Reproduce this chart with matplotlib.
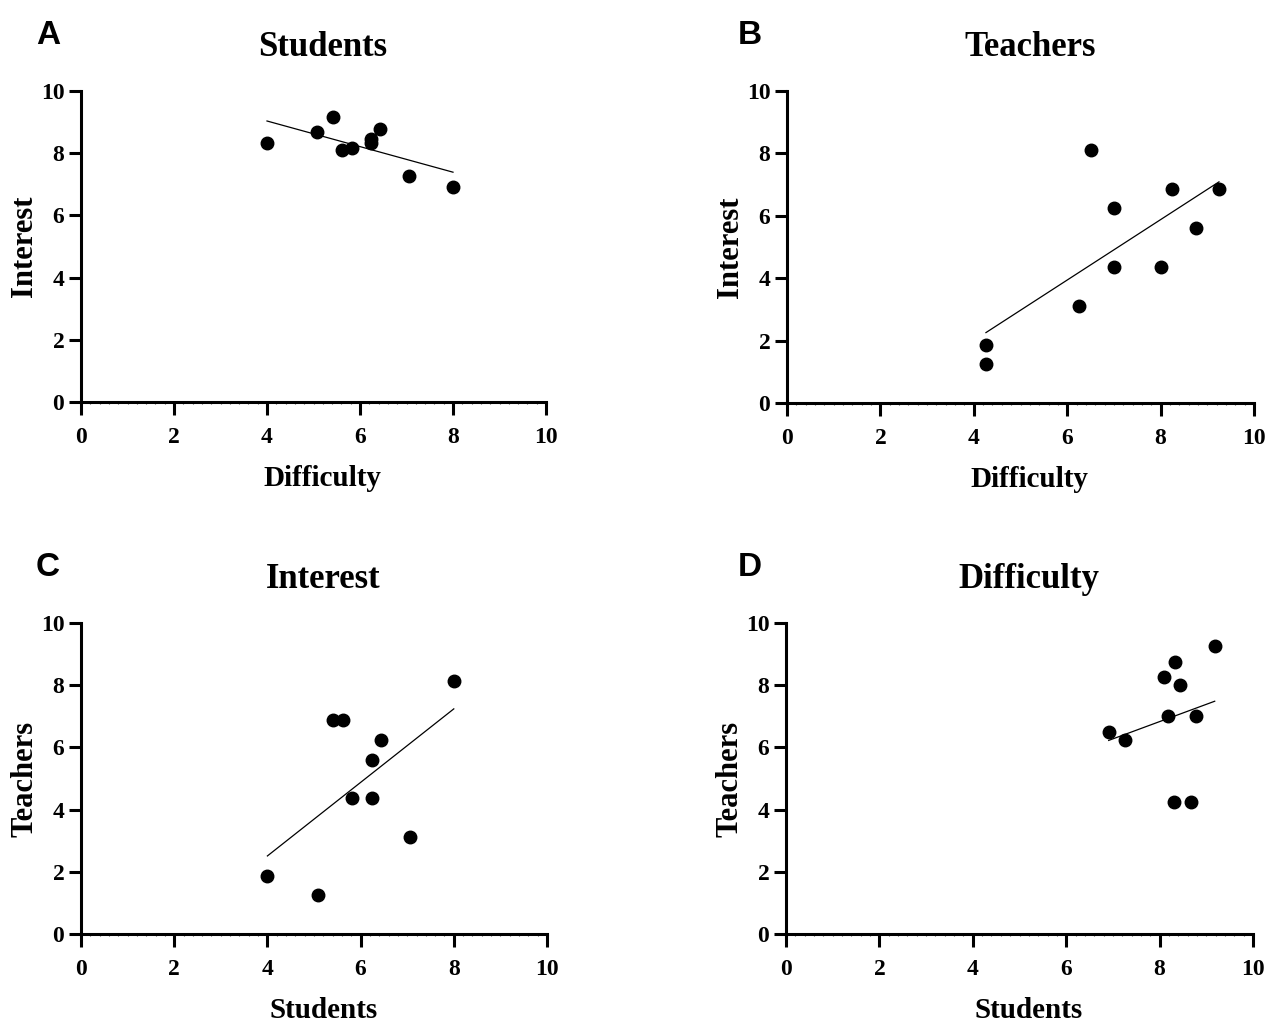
import numpy as np
import matplotlib
matplotlib.use("Agg")
import matplotlib.pyplot as plt
from matplotlib.ticker import MultipleLocator

# panel A: students, difficulty vs interest
a_x = [4.0, 5.08, 5.41, 5.61, 5.83, 6.24, 6.24, 6.42, 7.06, 8.0]
a_y = [8.32, 8.67, 9.17, 8.10, 8.18, 8.45, 8.32, 8.79, 7.26, 6.91]

# panel B: teachers, difficulty vs interest
b_x = [4.26, 4.26, 6.25, 6.5, 7.0, 7.0, 8.0, 8.25, 8.75, 9.25]
b_y = [1.86, 1.24, 3.11, 8.11, 6.24, 4.37, 4.37, 6.86, 5.61, 6.86]

# panel C: interest, students vs teachers
c_x = [4.0, 5.09, 5.41, 5.63, 5.82, 6.24, 6.24, 6.43, 7.07, 8.0]
c_y = [1.86, 1.24, 6.87, 6.87, 4.37, 5.61, 4.37, 6.24, 3.11, 8.12]

# panel D: difficulty, students vs teachers
d_x = [6.91, 7.26, 8.10, 8.18, 8.30, 8.34, 8.43, 8.68, 8.79, 9.18]
d_y = [6.50, 6.25, 8.25, 7.0, 4.25, 8.75, 8.0, 4.25, 7.0, 9.25]

panels = [
    ("A", "Students", "Difficulty", "Interest", a_x, a_y),
    ("B", "Teachers", "Difficulty", "Interest", b_x, b_y),
    ("C", "Interest", "Students", "Teachers", c_x, c_y),
    ("D", "Difficulty", "Students", "Teachers", d_x, d_y),
]

serif = "Liberation Serif"
W, H = 1268, 1022
fig = plt.figure(figsize=(W / 100, H / 100), dpi=100)

# axes boxes in pixels: left, top, right, bottom
boxes = [(81, 91, 546, 402), (787, 91, 1254, 403),
         (81, 623, 547, 934), (786, 623, 1253, 934)]
letter_pos = [(36, 20), (738, 20), (36, 552), (738, 552)]

for (letter, title, xl, yl, xs, ys), (l, t, r, b), (lx, ly) in zip(panels, boxes, letter_pos):
    ax = fig.add_axes([l / W, 1 - b / H, (r - l) / W, (b - t) / H])
    ax.plot(xs, ys, "o", color="black", ms=9, clip_on=False, zorder=3)
    k, c = np.polyfit(xs, ys, 1)
    xx = np.array([min(xs), max(xs)])
    ax.plot(xx, k * xx + c, color="black", lw=0.9)

    ax.set_xlim(0, 10)
    ax.set_ylim(0, 10)
    ax.xaxis.set_major_locator(MultipleLocator(2))
    ax.xaxis.set_minor_locator(MultipleLocator(0.2))
    ax.yaxis.set_major_locator(MultipleLocator(2))
    ax.spines[["top", "right"]].set_visible(False)
    for s in ("left", "bottom"):
        ax.spines[s].set_linewidth(2.2)
    ax.tick_params(which="major", length=9, width=2.2, labelsize=17)
    ax.tick_params(axis="x", which="major", pad=9)
    ax.tick_params(axis="y", which="major", pad=3)
    ax.tick_params(axis="x", which="minor", length=1.5, width=0.8, color="#555555")
    for lab in ax.get_xticklabels() + ax.get_yticklabels():
        lab.set_fontfamily(serif)
        lab.set_fontweight("bold")

    ax.set_title(title, fontfamily=serif, fontweight="bold", fontsize=25, pad=25, x=0.52)
    ax.set_xlabel(xl, fontfamily=serif, fontweight="bold", fontsize=21, labelpad=12)
    ax.xaxis.label.set_x(0.52)
    ax.set_ylabel(yl, fontfamily=serif, fontweight="bold", fontsize=22, labelpad=1)

    fig.text(lx / W, 1 - ly / H, letter, fontfamily="Liberation Sans",
             fontweight="bold", fontsize=24, va="top", ha="left")

fig.savefig("out.png", dpi=100)
